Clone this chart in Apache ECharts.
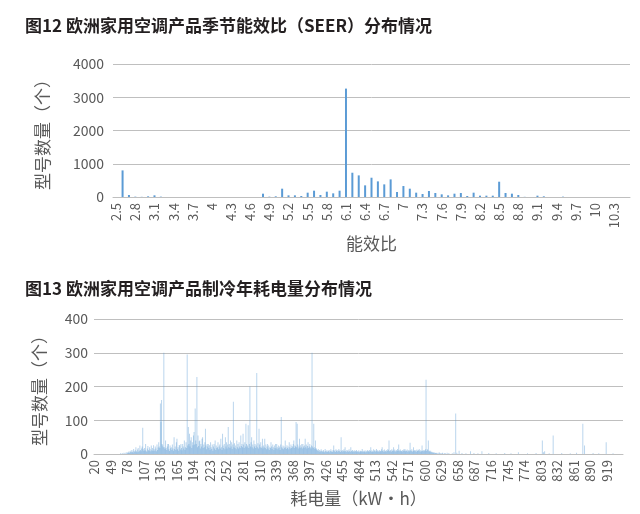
<!DOCTYPE html>
<html>
<head>
<meta charset="utf-8">
<script src="https://cdn.jsdelivr.net/npm/echarts@6/dist/echarts.min.js"></script>
<style>
html,body{margin:0;padding:0;background:#fff;}
#c{width:640px;height:514px;}
</style>
</head>
<body>
<div id="c"></div>
<script>
// ---- Figure 12: SEER distribution ----
const seerCategories = ['2.5','2.6','2.7','2.8','2.9','3','3.1','3.2','3.3','3.4','3.5','3.6','3.7','3.8','3.9','4','4.1','4.2','4.3','4.4','4.5','4.6','4.7','4.8','4.9','5','5.1','5.2','5.3','5.4','5.5','5.6','5.7','5.8','5.9','6','6.1','6.2','6.3','6.4','6.5','6.6','6.7','6.8','6.9','7','7.1','7.2','7.3','7.4','7.5','7.6','7.7','7.8','7.9','8','8.1','8.2','8.3','8.4','8.5','8.6','8.7','8.8','8.9','9','9.1','9.2','9.3','9.4','9.5','9.6','9.7','9.8','9.9','10','10.1','10.2','10.3','10.4','10.5'];
const seerCounts = [
  0, 800, 60, 10, 5, 20, 50, 10, 0, 0,
  0, 0, 0, 0, 0, 0, 0, 0, 0, 0,
  0, 0, 0, 100, 10, 20, 250, 50, 50, 30,
  130, 190, 60, 160, 110, 190, 3260, 730, 650, 350,
  580, 470, 380, 530, 150, 330, 250, 130, 90, 180,
  120, 80, 50, 100, 120, 30, 130, 40, 40, 40,
  460, 120, 100, 60, 5, 0, 40, 20, 0, 0,
  10, 0, 0, 0, 0, 0, 0, 0, 0, 0,
  0
];
const seerYTicks = [0, 1000, 2000, 3000, 4000];

// ---- Figure 13: annual cooling energy consumption distribution ----
const kwhStart = 20, kwhEnd = 947;
// counts for kWh 20 .. 639, one value per kWh
const kwhCountsMain = [
  0,0,0,0,0,0,0,0,0,0,0,0,0,0,0,0,0,0,0,0,
  0,0,0,0,0,0,0,0,0,0,0,0,0,0,0,0,0,0,0,0,
  0,0,0,0,0,0,2,0,0,3,0,0,4,0,2,0,5,0,3,6,
  4,8,3,6,10,5,12,7,4,15,9,6,11,20,8,5,13,18,7,10,
  25,12,8,16,22,78,14,9,18,11,30,10,7,16,24,12,9,20,14,8,
  25,11,18,9,26,14,10,22,16,8,28,12,19,35,22,18,150,95,160,30,
  25,20,300,20,15,40,18,12,22,30,30,14,9,25,17,20,12,28,16,10,
  50,15,22,12,35,45,14,20,10,27,25,13,30,18,11,30,22,16,40,12,
  20,35,18,295,25,80,30,60,22,40,50,18,35,26,55,65,28,135,40,30,
  228,20,55,24,38,40,16,30,22,45,50,18,28,20,35,75,25,14,30,22,
  30,18,26,12,35,20,15,28,10,22,30,16,40,12,25,18,20,35,14,22,
  28,16,45,20,12,60,25,18,30,14,50,22,35,16,28,80,20,30,18,40,
  22,35,15,28,155,20,32,18,25,14,40,20,30,16,35,22,18,55,24,30,
  20,60,28,18,35,22,90,30,20,25,85,18,30,200,22,35,50,20,28,16,
  40,22,30,18,25,240,20,32,16,75,28,20,35,18,22,45,16,25,20,45,
  18,28,14,22,30,16,25,12,20,18,35,22,15,28,20,12,25,18,30,16,
  30,20,14,25,18,22,12,28,110,20,16,25,14,22,18,40,20,15,26,18,
  22,14,35,20,16,28,18,24,20,30,40,18,25,22,95,20,90,28,16,22,
  45,18,26,20,30,16,30,22,18,25,45,20,28,16,24,35,18,22,30,20,
  16,25,300,22,18,90,20,15,40,18,14,12,10,15,8,12,6,10,14,8,
  10,6,12,8,5,15,9,7,11,6,10,8,12,5,9,14,7,10,6,12,
  25,8,11,6,14,9,12,7,10,15,8,11,6,50,9,12,7,10,14,8,
  20,9,6,12,8,11,7,14,9,6,20,10,8,12,6,9,11,7,10,8,
  12,6,9,7,11,5,8,10,6,9,15,7,10,6,8,11,5,9,7,12,
  8,10,6,12,9,20,7,11,8,6,14,9,12,7,10,15,8,11,6,9,
  12,7,10,8,14,20,9,11,6,13,8,10,7,12,9,15,11,40,8,10,
  12,7,14,9,11,20,8,13,10,7,12,9,15,10,28,11,8,13,9,10,
  7,12,9,14,10,15,8,11,9,13,7,10,12,8,33,11,9,14,7,10,
  20,9,12,8,11,7,13,10,9,12,15,8,11,7,10,25,9,12,8,11,
  10,14,220,9,15,12,40,8,10,6,10,5,7,4,6,3,5,2,4,3,
  2,4,0,3,0,5,2,0,3,0,2,4,0,0,3,0,2,0,0,4
];
// sparse [kWh, count] readings for 640 kWh and above (all others zero)
const kwhCountsTail = [
  [642,3],[648,2],[651,5],[654,120],[656,4],[660,10],[665,3],[672,2],[680,8],[686,3],
  [693,2],[700,8],[712,3],[725,2],[740,3],[751,2],[764,5],[780,2],[795,3],[806,40],
  [808,5],[810,8],[818,2],[825,55],[840,3],[855,2],[866,4],[877,90],[880,25],[895,3],
  [905,2],[918,35],[930,2]
];
const kwhYTicks = [0, 100, 200, 300, 400];

const kwhCategories = [];
for (let k = kwhStart; k <= kwhEnd; k++) kwhCategories.push(String(k));
const kwhData = kwhCategories.map(() => 0);
kwhCountsMain.forEach((v, i) => { kwhData[i] = v; });
kwhCountsTail.forEach(([k, v]) => { kwhData[k - kwhStart] = v; });

const labelColor = '#595959';
const gridColor = '#bfbfbf';
const barColor = '#5b9bd5';
const fontFam = '"Noto Sans CJK SC", "Noto Sans", sans-serif';

const chart = echarts.init(document.getElementById('c'), null, {renderer: 'canvas'});
chart.setOption({
  animation: false,
  backgroundColor: '#ffffff',
  textStyle: {fontFamily: fontFam},
  title: [
    {text: '图12 欧洲家用空调产品季节能效比（SEER）分布情况', left: 20, top: 12,
     textStyle: {fontSize: 17, fontWeight: 'bold', color: '#231f20', fontFamily: fontFam}},
    {text: '图13 欧洲家用空调产品制冷年耗电量分布情况', left: 20, top: 275,
     textStyle: {fontSize: 17, fontWeight: 'bold', color: '#231f20', fontFamily: fontFam}}
  ],
  grid: [
    {left: 113, right: 10, top: 64, height: 133},
    {left: 94, right: 17, top: 319, height: 135}
  ],
  xAxis: [
    {type: 'category', gridIndex: 0, data: seerCategories,
     axisLine: {lineStyle: {color: gridColor}}, axisTick: {show: false},
     axisLabel: {interval: 2, rotate: 90, color: labelColor, fontSize: 13, margin: 6, fontFamily: fontFam},
     name: '能效比', nameLocation: 'middle', nameGap: 38,
     nameTextStyle: {fontSize: 17, color: labelColor, fontFamily: fontFam}},
    {type: 'category', gridIndex: 1, data: kwhCategories,
     axisLine: {lineStyle: {color: gridColor}}, axisTick: {show: false},
     axisLabel: {interval: 28, rotate: 90, color: labelColor, fontSize: 13, margin: 6, fontFamily: fontFam},
     name: '耗电量（kW·h）', nameLocation: 'middle', nameGap: 36,
     nameTextStyle: {fontSize: 17, color: labelColor, fontFamily: fontFam}}
  ],
  yAxis: [
    {type: 'value', gridIndex: 0, min: seerYTicks[0], max: seerYTicks[seerYTicks.length - 1], interval: 1000,
     axisLine: {show: false}, axisTick: {show: false},
     splitLine: {lineStyle: {color: gridColor}},
     axisLabel: {color: labelColor, fontSize: 14, margin: 9, fontFamily: fontFam, formatter: v => String(v)},
     name: '型号数量（个）', nameLocation: 'middle', nameRotate: 90, nameGap: 62,
     nameTextStyle: {fontSize: 17, color: labelColor, fontFamily: fontFam}},
    {type: 'value', gridIndex: 1, min: kwhYTicks[0], max: kwhYTicks[kwhYTicks.length - 1], interval: 100,
     axisLine: {show: false}, axisTick: {show: false},
     splitLine: {lineStyle: {color: gridColor}},
     axisLabel: {color: labelColor, fontSize: 14, margin: 6, fontFamily: fontFam, formatter: v => String(v)},
     name: '型号数量（个）', nameLocation: 'middle', nameRotate: 90, nameGap: 46,
     nameTextStyle: {fontSize: 17, color: labelColor, fontFamily: fontFam}}
  ],
  series: [
    {type: 'bar', xAxisIndex: 0, yAxisIndex: 0, data: seerCounts, barWidth: 2,
     itemStyle: {color: barColor}},
    {type: 'bar', xAxisIndex: 1, yAxisIndex: 1, data: kwhData, barCategoryGap: '50%',
     itemStyle: {color: barColor, opacity: 0.42}}
  ]
});
</script>
</body>
</html>
